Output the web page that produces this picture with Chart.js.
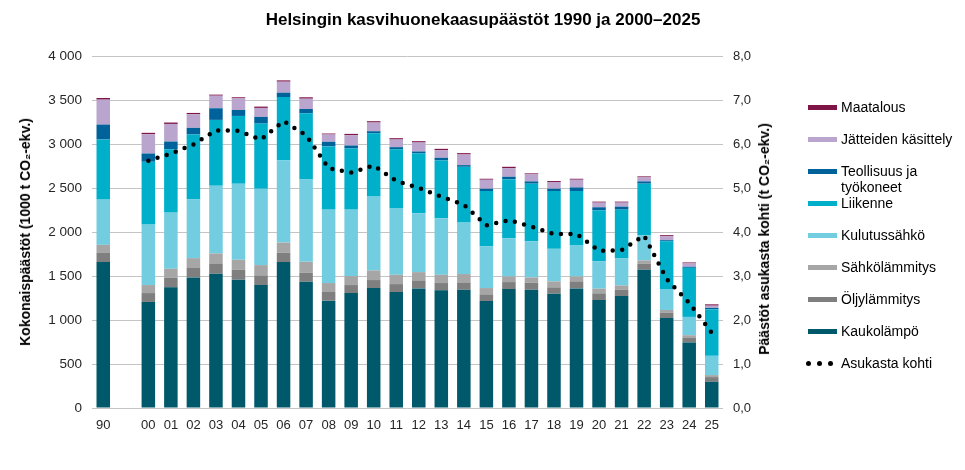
<!DOCTYPE html>
<html lang="fi">
<head>
<meta charset="utf-8">
<title>Helsingin kasvihuonekaasupäästöt</title>
<script src="https://cdn.jsdelivr.net/npm/chart.js@4.4.1/dist/chart.umd.min.js"></script>
<style>
  body { margin: 0; background: #fff; font-family: "Liberation Sans", Arial, sans-serif; }
  #wrap { position: relative; width: 965px; height: 470px; }
  #title { position: absolute; left: 483px; top: 20px; transform: translate(-50%, -50%);
    font-weight: bold; font-size: 17px; color: #000; white-space: nowrap; }
  .axis-title { position: absolute; font-weight: bold; font-size: 14px; color: #000; white-space: nowrap;
    transform: translate(-50%, -50%) rotate(-90deg); }
  .leg { position: absolute; left: 808px; font-size: 14px; color: #000; line-height: 16px; }
  .leg .box { position: absolute; left: 0; top: 6px; width: 29px; height: 5px; }
  .leg .txt { position: absolute; left: 33px; top: 0; white-space: nowrap; }
  .dot { position: absolute; top: 6px; width: 5px; height: 5px; border-radius: 50%; background: #000; }
</style>
</head>
<body>
<div id="wrap">
  <canvas id="chart" width="965" height="470"></canvas>
  <div id="title">Helsingin kasvihuonekaasupäästöt 1990 ja 2000–2025</div>
  <div class="axis-title" style="left:25px; top:232px;">Kokonaispäästöt (1000 t CO₂-ekv.)</div>
  <div class="axis-title" style="left:764px; top:239px;">Päästöt asukasta kohti (t CO₂-ekv.)</div>
  <div id="legend"></div>
</div>
<script>
// Categories (empty slot between 1990 and 2000)
const years = ['90', '', '00', '01', '02', '03', '04', '05', '06', '07', '08', '09', '10', '11', '12',
  '13', '14', '15', '16', '17', '18', '19', '20', '21', '22', '23', '24', '25'];

// Emissions by sector, 1000 t CO2-ekv.
const kaukolampo = [1658, null, 1205, 1371, 1484, 1526, 1458, 1397, 1658, 1435, 1220, 1306, 1363, 1318, 1359,
  1337, 1344, 1216, 1352, 1344, 1299, 1359, 1227, 1273, 1571, 1023, 744, 298];
const oljylammitys = [109, null, 101, 109, 113, 117, 113, 110, 105, 102, 98, 91, 91, 90, 91,
  83, 83, 75, 79, 80, 72, 80, 76, 71, 68, 61, 57, 53];
const sahkolammitys = [87, null, 91, 102, 106, 113, 113, 117, 117, 124, 102, 102, 109, 106, 94,
  94, 95, 72, 64, 60, 68, 56, 53, 49, 38, 30, 26, 23];
const kulutussahko = [514, null, 687, 638, 665, 770, 865, 868, 933, 937, 834, 755, 839, 752, 669,
  642, 585, 476, 435, 412, 370, 351, 313, 306, 287, 238, 208, 219];
const liikenne = [683, null, 714, 721, 740, 748, 770, 740, 721, 751, 718, 695, 721, 675, 679,
  657, 634, 627, 668, 653, 657, 620, 578, 555, 585, 544, 558, 528];
const teollisuus = [170, null, 94, 87, 75, 132, 68, 76, 49, 49, 53, 34, 22, 23, 23,
  30, 19, 26, 30, 26, 26, 41, 34, 34, 26, 11, 12, 16];
const jatteet = [283, null, 219, 200, 155, 143, 132, 102, 125, 117, 83, 117, 99, 87, 102,
  87, 121, 102, 98, 80, 76, 87, 53, 46, 46, 45, 38, 26];
const maatalous = [19, null, 16, 16, 15, 12, 12, 15, 15, 16, 11, 15, 15, 15, 15,
  15, 15, 11, 15, 11, 11, 11, 11, 11, 11, 12, 11, 15];

// Per capita, t CO2-ekv.
const asukastaKohti = [null, null, 5.62, 5.78, 5.99, 6.31, 6.30, 6.10, 6.52, 6.20, 5.45, 5.35, 5.51, 5.16, 5.00,
  4.80, 4.62, 4.15, 4.27, 4.12, 3.95, 3.96, 3.57, 3.59, 3.92, 2.93, 2.39, 1.71];

// Axis ticks
const leftTicks = [0, 500, 1000, 1500, 2000, 2500, 3000, 3500, 4000];
const rightTicks = [0, 1, 2, 3, 4, 5, 6, 7, 8];

const sectors = [
  { label: 'Kaukolämpö', data: kaukolampo, color: '#00596a' },
  { label: 'Öljylämmitys', data: oljylammitys, color: '#7f7f7f' },
  { label: 'Sähkölämmitys', data: sahkolammitys, color: '#a6a6a6' },
  { label: 'Kulutussähkö', data: kulutussahko, color: '#72cde0' },
  { label: 'Liikenne', data: liikenne, color: '#00b0ca' },
  { label: 'Teollisuus ja\ntyökoneet', data: teollisuus, color: '#00629b' },
  { label: 'Jätteiden käsittely', data: jatteet, color: '#b9a5cd' },
  { label: 'Maatalous', data: maatalous, color: '#7f1447' }
];

const textColor = '#262626';
Chart.defaults.font.family = '"Liberation Sans", Arial, sans-serif';

const datasets = [{
  type: 'line',
  label: 'Asukasta kohti',
  data: asukastaKohti,
  yAxisID: 'y2',
  borderColor: '#000',
  borderWidth: 4.5,
  borderDash: [0, 9.6],
  borderCapStyle: 'round',
  pointRadius: 0,
  tension: 0,
  spanGaps: false,
  order: 0
}];
sectors.forEach(s => {
  datasets.push({
    type: 'bar',
    label: s.label,
    data: s.data,
    backgroundColor: s.color,
    borderWidth: 0,
    stack: 'a',
    yAxisID: 'y',
    categoryPercentage: 1,
    barPercentage: 0.6,
    order: 1
  });
});

function spaced(v) {
  return String(v).replace(/\B(?=(\d{3})+(?!\d))/g, ' ');
}

new Chart(document.getElementById('chart'), {
  data: { labels: years, datasets: datasets },
  options: {
    responsive: false,
    animation: false,
    layout: { padding: { left: 0, right: 192, top: 56, bottom: 22 } },
    plugins: {
      legend: { display: false },
      tooltip: { enabled: false }
    },
    scales: {
      x: {
        stacked: true,
        grid: { display: false, drawTicks: false },
        border: { display: false },
        ticks: { color: textColor, font: { size: 13 }, padding: 10, autoSkip: false, maxRotation: 0 },
        afterFit: s => { s.height = 40; }
      },
      y: {
        stacked: true,
        position: 'left',
        min: 0,
        max: 4000,
        afterBuildTicks: s => { s.ticks = leftTicks.map(v => ({ value: v })); },
        grid: { color: '#c4c4c4', lineWidth: 1, drawTicks: false },
        border: { display: false },
        ticks: { color: textColor, font: { size: 13.5 }, padding: 10, callback: v => spaced(v) },
        afterFit: s => { s.width = 92; }
      },
      y2: {
        position: 'right',
        min: 0,
        max: 8,
        afterBuildTicks: s => { s.ticks = rightTicks.map(v => ({ value: v })); },
        grid: { display: false, drawTicks: false },
        border: { display: false },
        ticks: { color: textColor, font: { size: 13 }, padding: 10, callback: v => v.toFixed(1).replace('.', ',') },
        afterFit: s => { s.width = 50; }
      }
    }
  }
});

// Legend, drawn top to bottom in reverse stacking order
const legend = document.getElementById('legend');
const legendY = [99, 131, 163, 195, 227, 259, 291, 323];
sectors.slice().reverse().forEach((s, i) => {
  const item = document.createElement('div');
  item.className = 'leg';
  item.style.top = legendY[i] + 'px';
  item.innerHTML = '<div class="box" style="background:' + s.color + '"></div>' +
    '<div class="txt">' + s.label.replace('\n', '<br>') + '</div>';
  legend.appendChild(item);
});
const lineItem = document.createElement('div');
lineItem.className = 'leg';
lineItem.style.top = '355px';
lineItem.innerHTML = '<div class="dot" style="left:-2px"></div><div class="dot" style="left:9px"></div>' +
  '<div class="dot" style="left:20px"></div><div class="txt">Asukasta kohti</div>';
legend.appendChild(lineItem);
</script>
</body>
</html>
